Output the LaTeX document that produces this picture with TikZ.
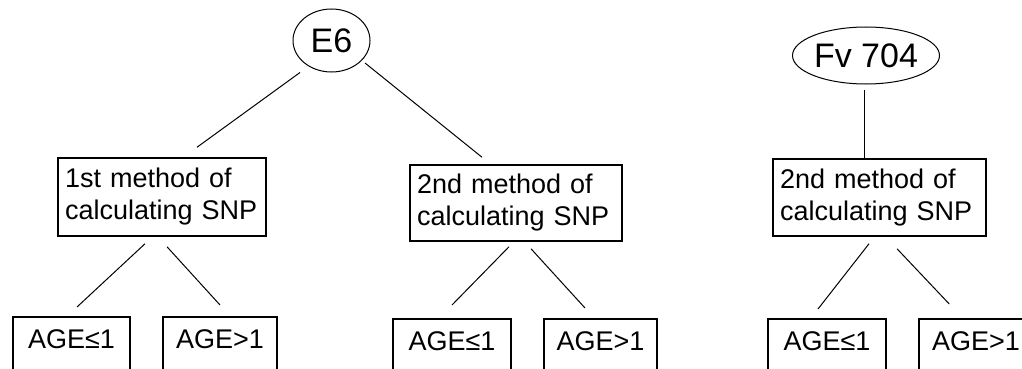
\documentclass[tikz,border=0pt]{standalone}
\usepackage{fontspec}
\setmainfont{Liberation Sans}
\usetikzlibrary{shapes.geometric,calc}
\tikzset{
  root/.style={ellipse,draw,line width=1pt,inner sep=0pt,font=\fontsize{34}{40}\selectfont},
  method/.style={rectangle,draw,line width=1.5pt,align=left,inner xsep=7pt,inner ysep=0pt,
     font=\fontsize{27}{32}\selectfont},
  agebox/.style={rectangle,draw,line width=1.5pt,anchor=north,inner sep=0pt,
     text height=32pt,text depth=30pt,align=center,font=\fontsize{27}{32}\selectfont},
  conn/.style={line width=1pt}
}
\begin{document}
\begin{tikzpicture}[x=1pt,y=-1pt]
\useasboundingbox (0,0) rectangle (1022,369);
\clip (0,0) rectangle (1022,369);
% roots
\node[root,minimum width=77pt,minimum height=63pt] (e6) at (331.5,40.5) {E6};
\node[root,minimum width=138pt,minimum height=57pt] (fv) at (866,55.5) {Fv 704};
% method boxes
\node[method,text width=194pt,minimum height=78pt] (m1) at (162,197) {1st method of\\calculating SNP};
\node[method,text width=198pt,minimum height=76pt] (m2) at (516,203) {2nd method of\\calculating SNP};
\node[method,text width=199pt,minimum height=77pt] (m3) at (879.5,197.5) {2nd method of\\calculating SNP};
% age boxes
\node[agebox,minimum width=117pt] (a1) at (71.5,316) {AGE≤1};
\node[agebox,minimum width=114pt] (a2) at (220,316) {AGE>1};
\node[agebox,minimum width=118pt] (b1) at (452,318) {AGE≤1};
\node[agebox,minimum width=113pt] (b2) at (600.5,318) {AGE>1};
\node[agebox,minimum width=118pt] (c1) at (827,318) {AGE≤1};
\node[agebox,minimum width=114pt] (c2) at (976,318) {AGE>1};
% connectors
\draw[conn] ($(e6.south)+(-31.5,0)$) -- ($(m1.north)+(35,-10)$);
\draw[conn] ($(e6.center)+(33.5,22.5)$) -- ($(m2.north)+(-34,-7)$);
\draw[conn] ($(fv.south)+(-2,5)$) -- ($(m3.north)+(-15.5,0)$);
\draw[conn] ($(m1.south)+(-17,7)$) -- ($(a1.north)+(5.5,-9)$);
\draw[conn] ($(m1.south)+(5,10)$) -- ($(a2.north)+(0,-11)$);
\draw[conn] ($(m2.south)+(-7,5)$) -- ($(b1.north)+(0,-13)$);
\draw[conn] ($(m2.south)+(15,7)$) -- ($(b2.north)+(-15.5,-10)$);
\draw[conn] ($(m3.south)+(-10.5,7)$) -- ($(c1.north)+(-9,-9)$);
\draw[conn] ($(m3.south)+(17.5,12)$) -- ($(c2.north west)+(31,-14)$);
\end{tikzpicture}
\end{document}
